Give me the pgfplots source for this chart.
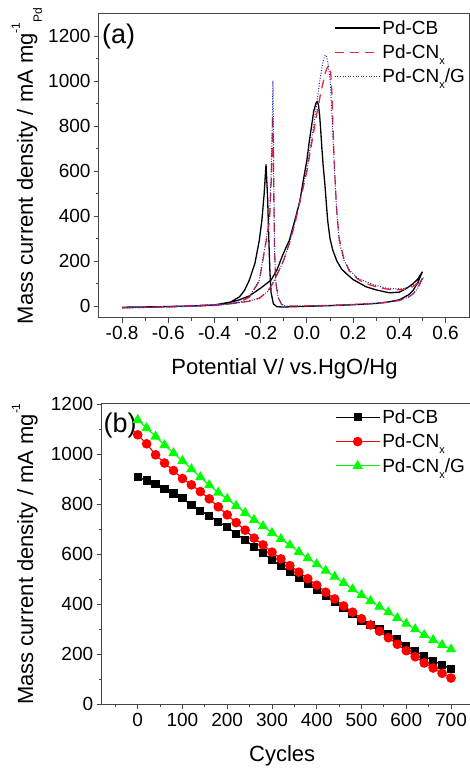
\documentclass[border=0pt]{standalone}
\usepackage{fontspec}
\setmainfont{Liberation Sans}
\usepackage{pgfplots}
\pgfplotsset{compat=1.18}

\definecolor{cvred}{RGB}{232,40,60}
\definecolor{cvblue}{RGB}{40,40,170}
\definecolor{axgray}{RGB}{70,70,70}

% Origin-style low subscript and high superscript
\newcommand{\sub}[1]{\raisebox{-6pt}{\fontsize{11}{11}\selectfont #1}}
\newcommand{\labsup}[1]{\raisebox{13pt}{\fontsize{12}{12}\selectfont #1}}
\newcommand{\labsub}[1]{\raisebox{-9pt}{\fontsize{12}{12}\selectfont #1}}

\pgfplotsset{
  panel/.style={
    scale only axis,
    anchor=south west,
    axis line style={line width=1pt, axgray},
    tick align=outside,
    xtick pos=left, ytick pos=left,
    major tick length=5pt, minor tick length=3pt,
    every tick/.style={axgray, line width=0.9pt},
    tick label style={font=\fontsize{19}{22}\selectfont},
    label style={font=\fontsize{22}{26}\selectfont},
    /pgf/number format/assume math mode=true,
    /pgf/number format/1000 sep={},
    legend cell align=left,
    legend style={draw=none, fill=none, anchor=north west,
      font=\fontsize{19}{22}\selectfont, row sep=5pt},
  },
}

\begin{document}
\begin{tikzpicture}
% ---- (a) cyclic voltammograms ----
\begin{axis}[panel,
  at={(99pt,450pt)}, width=371pt, height=304pt,
  xmin=-0.9, xmax=0.706, ymin=-53, ymax=1300,
  xtick={-0.8,-0.6,-0.4,-0.2,0,0.2,0.4,0.6},
  minor xtick={-0.7,-0.5,-0.3,-0.1,0.1,0.3,0.5},
  ytick={0,200,...,1200}, minor ytick={100,300,...,1100},
  xticklabel style={/pgf/number format/fixed, /pgf/number format/fixed zerofill,
    /pgf/number format/precision=1},
  xlabel={Potential V/ vs.HgO/Hg},
  ylabel={Mass current density / mA mg\labsup{-1}\labsub{Pd}},
  xlabel style={at={(axis description cs:0.5,-0.1875)}, anchor=base},
  ylabel style={at={(axis description cs:-0.178,0.5)}, anchor=base},
  legend style={at={(rel axis cs:0.625,0.993)}},
  legend image code/.code={\draw[#1] (0pt,0pt) -- (45pt,0pt);},
]
\addplot[black, line width=1.3pt] coordinates {
 (-0.80,-5) (-0.70,-4) (-0.60,-2) (-0.50,0) (-0.40,5) (-0.35,12) (-0.30,25)
 (-0.25,45) (-0.20,80) (-0.155,116) (-0.13,160) (-0.105,227) (-0.076,293)
 (-0.05,390) (-0.03,470) (-0.018,545) (0.00,650) (0.011,738) (0.02,800)
 (0.03,870) (0.04,905) (0.045,910) (0.05,895) (0.055,850) (0.06,780)
 (0.065,700) (0.07,630) (0.078,540) (0.083,471) (0.09,380) (0.10,300)
 (0.112,249) (0.13,200) (0.15,165) (0.17,145) (0.20,118) (0.256,86)
 (0.30,72) (0.357,59) (0.40,62) (0.43,78) (0.46,100) (0.48,120) (0.50,153)
 (0.48,105) (0.46,70) (0.44,50) (0.40,28) (0.35,18) (0.30,12) (0.20,6)
 (0.10,2) (0.00,-1) (-0.10,-4) (-0.13,-3) (-0.145,10) (-0.155,60)
 (-0.16,150) (-0.165,300) (-0.17,480) (-0.177,630) (-0.185,500)
 (-0.195,380) (-0.206,293) (-0.225,190) (-0.249,116) (-0.27,70)
 (-0.292,41) (-0.33,18) (-0.40,5) (-0.50,0) (-0.65,-3) (-0.80,-5)
};
\addlegendentry{Pd-CB}
\addplot[cvred, line width=1.3pt, dash pattern=on 9pt off 6pt] coordinates {
 (-0.80,-8) (-0.60,-4) (-0.40,3) (-0.35,8) (-0.30,14) (-0.25,22) (-0.206,35)
 (-0.17,65) (-0.148,101) (-0.12,160) (-0.10,205) (-0.076,279) (-0.05,375)
 (-0.02,510) (0.00,600) (0.02,720) (0.04,840) (0.06,950) (0.08,1040)
 (0.09,1065) (0.097,1071) (0.103,1040) (0.108,950) (0.112,820) (0.117,680)
 (0.122,560) (0.13,410) (0.14,300) (0.16,210) (0.184,155) (0.22,120)
 (0.256,100) (0.30,86) (0.343,76) (0.38,72) (0.415,73) (0.45,82) (0.48,100)
 (0.50,125) (0.48,80) (0.46,55) (0.44,40) (0.40,25) (0.35,17) (0.30,12)
 (0.20,7) (0.10,3) (0.00,1) (-0.05,0) (-0.09,0) (-0.11,8) (-0.125,40)
 (-0.135,110) (-0.14,250) (-0.143,480) (-0.146,750) (-0.148,850)
 (-0.151,700) (-0.155,540) (-0.162,380) (-0.177,285) (-0.206,112)
 (-0.249,40) (-0.292,17) (-0.35,8) (-0.50,2) (-0.65,-4) (-0.80,-8)
};
\addlegendentry{Pd-CN\sub{x}}
\addplot[cvblue, line width=1pt, dash pattern=on 1pt off 1.6pt] coordinates {
 (-0.80,-8) (-0.60,-4) (-0.40,3) (-0.35,8) (-0.30,14) (-0.25,22) (-0.206,35)
 (-0.17,65) (-0.148,101) (-0.12,160) (-0.10,205) (-0.076,279) (-0.05,380)
 (-0.02,520) (0.00,610) (0.02,740) (0.04,880) (0.05,960) (0.06,1030)
 (0.07,1090) (0.079,1118) (0.085,1110) (0.09,1090) (0.10,1010)
 (0.105,920) (0.11,820) (0.115,700) (0.12,600) (0.126,471) (0.133,370)
 (0.141,279) (0.16,205) (0.184,160) (0.22,125) (0.256,108) (0.30,92)
 (0.343,80) (0.38,77) (0.415,78) (0.45,88) (0.48,102) (0.50,120)
 (0.48,80) (0.46,55) (0.44,40) (0.40,25) (0.35,17) (0.30,12) (0.20,7)
 (0.10,3) (0.00,1) (-0.05,0) (-0.09,0) (-0.11,8) (-0.125,40) (-0.135,110)
 (-0.14,250) (-0.143,500) (-0.145,800) (-0.147,1004) (-0.15,800)
 (-0.155,580) (-0.162,400) (-0.177,293) (-0.206,116) (-0.249,41)
 (-0.292,18) (-0.35,8) (-0.50,2) (-0.65,-4) (-0.80,-8)
};
\addlegendentry{Pd-CN\sub{x}/G}
\node[anchor=west, inner sep=0pt, font=\fontsize{27}{30}\selectfont]
  at (rel axis cs:0.008,0.925) {(a)};
\end{axis}

% ---- (b) stability over cycles ----
\begin{axis}[panel,
  at={(101.7pt,63.7pt)}, width=368.3pt, height=300.3pt,
  xmin=-80.4, xmax=742.4, ymin=0, ymax=1200,
  xtick={0,100,...,700}, minor xtick={-50,50,...,650},
  ytick={0,200,...,1200}, minor ytick={100,300,...,1100},
  xlabel={Cycles},
  ylabel={Mass current density / mA mg\labsup{-1}},
  xlabel style={at={(axis description cs:0.49,-0.192)}, anchor=base},
  ylabel style={at={(axis description cs:-0.1865,0.5)}, anchor=base},
  legend style={at={(rel axis cs:0.625,0.995)}},
  legend image code/.code={\draw[mark repeat=2, mark phase=2, #1]
    plot coordinates {(0pt,0pt) (22pt,0pt) (44pt,0pt)};},
]
\addplot[black, line width=1.2pt, mark=square*, mark size=3.5pt] coordinates {
 (0,908) (20,894) (40,880) (60,861) (80,842) (100,824) (120,797) (140,774)
 (160,753) (180,730) (200,708) (220,681) (240,656) (260,630) (280,604)
 (300,577) (320,553) (340,528) (360,505) (380,481) (400,457) (420,433)
 (440,409) (460,384) (480,360) (500,334) (520,317) (540,300) (560,281)
 (580,260) (600,234) (620,214) (640,193) (660,174) (680,157) (700,142)
};
\addlegendentry{Pd-CB}
\addplot[red, line width=1.2pt, mark=*, mark size=4.2pt] coordinates {
 (0,1077) (20,1041) (40,997) (60,964) (80,934) (100,902) (120,877) (140,850)
 (160,821) (180,789) (200,757) (220,726) (240,696) (260,664) (280,637)
 (300,608) (320,581) (340,554) (360,528) (380,502) (400,476) (420,448)
 (440,421) (460,393) (480,368) (500,342) (520,317) (540,292) (560,266)
 (580,240) (600,214) (620,190) (640,165) (660,145) (680,124) (700,105)
};
\addlegendentry{Pd-CN\sub{x}}
\addplot[green, line width=1.2pt, mark=triangle*, mark size=4.8pt] coordinates {
 (0,1137) (20,1104) (40,1070) (60,1036) (80,1004) (100,973) (120,940)
 (140,908) (160,876) (180,846) (200,821) (220,793) (240,765) (260,737)
 (280,712) (300,685) (320,661) (340,636) (360,609) (380,584) (400,560)
 (420,534) (440,510) (460,485) (480,460) (500,437) (520,413) (540,390)
 (560,368) (580,345) (600,322) (620,300) (640,277) (660,257) (680,237)
 (700,220)
};
\addlegendentry{Pd-CN\sub{x}/G}
\node[anchor=west, inner sep=0pt, font=\fontsize{27}{30}\selectfont]
  at (rel axis cs:0.005,0.927) {(b)};
\end{axis}
\pgfresetboundingbox
\useasboundingbox (0pt,0pt) rectangle (469pt,768pt);
\end{tikzpicture}
\end{document}
